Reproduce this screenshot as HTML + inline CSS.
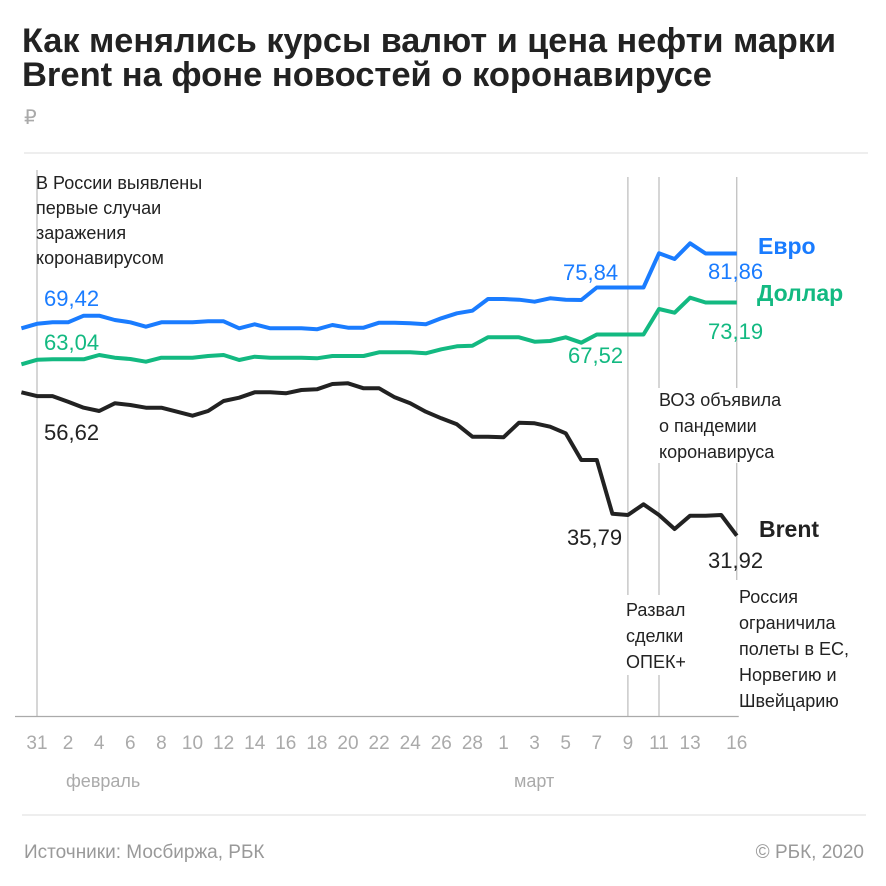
<!DOCTYPE html>
<html><head><meta charset="utf-8"><style>
html,body{margin:0;padding:0;background:#fff;}
svg{display:block;font-family:"Liberation Sans","Noto Sans CJK SC",sans-serif;}
</style></head><body>
<svg id="chart" width="886" height="886" viewBox="0 0 886 886" xmlns="http://www.w3.org/2000/svg">
<text x="22" y="52" font-size="34" font-weight="bold" fill="#222" textLength="814" lengthAdjust="spacingAndGlyphs">Как менялись курсы валют и цена нефти марки</text>
<text x="22" y="86" font-size="34" font-weight="bold" fill="#222" textLength="690" lengthAdjust="spacingAndGlyphs">Brent на фоне новостей о коронавирусе</text>
<text x="24" y="124" font-size="20" fill="#aaa">₽</text>
<line x1="24" y1="153" x2="868" y2="153" stroke="#ddd" stroke-width="1"/>
<g id="events"></g>
<g id="axis"></g>
<g id="series"></g>
<g font-size="18" fill="#222">
<text x="36" y="189">В России выявлены</text>
<text x="36" y="214">первые случаи</text>
<text x="36" y="239">заражения</text>
<text x="36" y="264">коронавирусом</text>
<text x="659" y="406">ВОЗ объявила</text>
<text x="659" y="432">о пандемии</text>
<text x="659" y="458">коронавируса</text>
<text x="626" y="616">Развал</text>
<text x="626" y="642">сделки</text>
<text x="626" y="668">ОПЕК+</text>
<text x="739" y="603">Россия</text>
<text x="739" y="629">ограничила</text>
<text x="739" y="655">полеты в ЕС,</text>
<text x="739" y="681">Норвегию и</text>
<text x="739" y="707">Швейцарию</text>
</g>
<g font-size="22">
<text x="44" y="306" fill="#1a7cff">69,42</text>
<text x="44" y="350" fill="#13b981">63,04</text>
<text x="44" y="440" fill="#222">56,62</text>
<text x="563" y="280" fill="#1a7cff">75,84</text>
<text x="568" y="363" fill="#13b981">67,52</text>
<text x="567" y="545" fill="#222">35,79</text>
<text x="708" y="279" fill="#1a7cff">81,86</text>
<text x="708" y="339" fill="#13b981">73,19</text>
<text x="708" y="568" fill="#222">31,92</text>
</g>
<text x="758" y="254" font-size="23" font-weight="bold" fill="#1a7cff">Евро</text>
<text x="757" y="301" font-size="23" font-weight="bold" fill="#13b981">Доллар</text>
<text x="759" y="537" font-size="23" font-weight="bold" fill="#222">Brent</text>
<text x="66" y="787" font-size="18" fill="#aaa">февраль</text>
<text x="514" y="787" font-size="18" fill="#aaa">март</text>
<line x1="22" y1="815" x2="866" y2="815" stroke="#ddd" stroke-width="1"/>
<text x="24" y="858" font-size="19" fill="#999">Источники: Мосбиржа, РБК</text>
<text x="864" y="858" font-size="19" fill="#999" text-anchor="end">© РБК, 2020</text>
</svg>
<script>
// day index: -1 = 30 Jan ... 45 = 16 Mar
const days = [-1,0,1,2,3,4,5,6,7,8,9,10,11,12,13,14,15,16,17,18,19,20,21,22,23,24,25,26,27,28,29,30,31,32,33,34,35,36,37,38,39,40,41,42,43,44,45];
const euro = [68.62,69.42,69.68,69.68,70.85,70.85,70.09,69.68,68.90,69.68,69.68,69.68,69.86,69.86,68.62,69.33,68.62,68.62,68.62,68.44,69.20,68.73,68.73,69.61,69.61,69.50,69.33,70.39,71.27,71.73,73.81,73.81,73.68,73.33,73.93,73.68,73.63,75.84,75.84,75.84,75.84,81.89,80.88,83.66,81.86,81.86,81.86];
const dollar = [62.25,63.04,63.13,63.13,63.13,63.89,63.42,63.19,62.71,63.42,63.42,63.42,63.72,63.89,63.01,63.59,63.42,63.42,63.42,63.31,63.72,63.72,63.72,64.37,64.37,64.37,64.19,64.90,65.43,65.54,67.03,67.03,67.03,66.25,66.37,67.03,66.07,67.52,67.52,67.52,67.52,72.04,71.38,74.04,73.19,73.19,73.19];
const brent = [57.29,56.62,56.62,55.63,54.57,53.98,55.35,55.04,54.57,54.57,53.86,53.15,53.98,55.75,56.34,57.29,57.29,57.12,57.70,57.82,58.76,58.88,58.00,58.00,56.41,55.35,53.86,52.69,51.63,49.43,49.43,49.33,51.91,51.81,51.20,50.04,45.31,45.31,35.79,35.58,37.47,35.58,33.10,35.45,35.45,35.58,31.92];
const tickDays = [0,2,4,6,8,10,12,14,16,18,20,22,24,26,28,30,32,34,36,38,40,42,45];
const tickLabels = ["31","2","4","6","8","10","12","14","16","18","20","22","24","26","28","1","3","5","7","9","11","13","16"];
const eventDays = [0,38,40,45];

const NS = "http://www.w3.org/2000/svg";
function x(d){ return 37 + d*15.55; }
function y(v){ return 716 - v*5.65; }
function mk(tag, attrs, parent){
  const e = document.createElementNS(NS, tag);
  for (const k in attrs) e.setAttribute(k, attrs[k]);
  parent.appendChild(e); return e;
}
const ev = document.getElementById('events');
const segs = {0:[[170,716]],38:[[177,595],[675,716]],40:[[177,388],[463,595],[675,716]],45:[[177,388],[463,580]]};
eventDays.forEach(d=>{
  (segs[d]||[[177,716]]).forEach(s=>{
    const l = mk('line',{x1:x(d),x2:x(d),y1:s[0],y2:s[1],stroke:'#bbb','stroke-width':1.2},ev);
    
    
  });
});
const ax = document.getElementById('axis');
const base = mk('line',{x1:15,x2:x(45)+2,y1:716.5,y2:716.5,stroke:'#aaa','stroke-width':1.2},ax);


tickDays.forEach((d,i)=>{
  const t = mk('text',{x:x(d),y:749,'font-size':19,fill:'#aaa','text-anchor':'middle'},ax);
  t.textContent = tickLabels[i];
  
  
});
const sg = document.getElementById('series');
[[euro,'#1a7cff','euro-line'],[dollar,'#13b981','dollar-line'],[brent,'#222','brent-line']].forEach(s=>{
  const pts = days.map((d,i)=>x(d).toFixed(1)+','+y(s[0][i]).toFixed(1)).join(' ');
  const p = mk('polyline',{points:pts,fill:'none',stroke:s[1],'stroke-width':4,'stroke-linejoin':'round'},sg);
  
  
});
</script>
</body></html>
